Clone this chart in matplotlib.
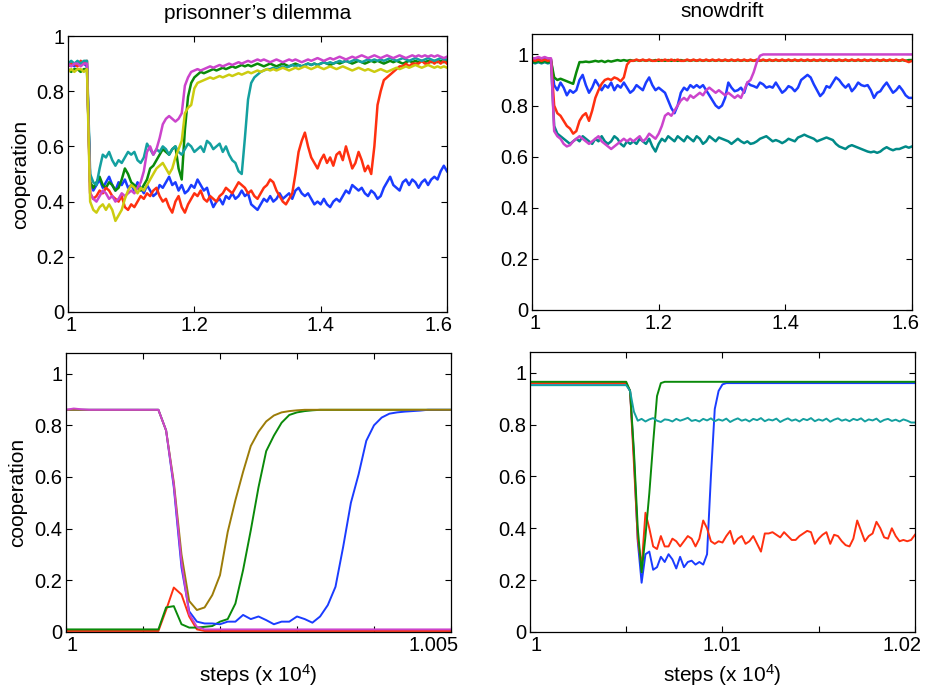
import numpy as np
import matplotlib
matplotlib.use("Agg")
import matplotlib.pyplot as plt
import matplotlib.transforms as mtransforms
from matplotlib.ticker import FixedLocator, FixedFormatter

plt.rcParams['font.family'] = ['Liberation Sans', 'DejaVu Sans']
plt.rcParams['mathtext.default'] = 'regular'

# ---------------- top panels: steps (x 1e4) from 1 to 1.6, every 0.005
top_x = np.round(1 + 0.005 * np.arange(121), 3)

# prisoner's dilemma, long run
pd_blue = [0.89, 0.90, 0.89, 0.90, 0.90, 0.90, 0.89, 0.47, 0.44, 0.46,
           0.48, 0.45, 0.47, 0.49, 0.46, 0.44, 0.47, 0.46, 0.48, 0.45,
           0.46, 0.44, 0.47, 0.45, 0.43, 0.46, 0.44, 0.42, 0.43, 0.46,
           0.45, 0.47, 0.49, 0.46, 0.47, 0.44, 0.46, 0.43, 0.44, 0.46,
           0.45, 0.48, 0.46, 0.44, 0.45, 0.41, 0.38, 0.40, 0.41, 0.39,
           0.42, 0.41, 0.43, 0.41, 0.42, 0.44, 0.42, 0.43, 0.39, 0.38,
           0.37, 0.39, 0.41, 0.40, 0.42, 0.40, 0.41, 0.43, 0.41, 0.42,
           0.43, 0.41, 0.44, 0.45, 0.43, 0.42, 0.43, 0.41, 0.39, 0.40,
           0.39, 0.41, 0.39, 0.38, 0.40, 0.41, 0.40, 0.42, 0.44, 0.43,
           0.46, 0.45, 0.44, 0.45, 0.43, 0.42, 0.44, 0.43, 0.41, 0.42,
           0.45, 0.47, 0.49, 0.46, 0.45, 0.44, 0.47, 0.48, 0.46, 0.48,
           0.47, 0.45, 0.47, 0.48, 0.46, 0.48, 0.49, 0.48, 0.51, 0.53,
           0.51]
pd_red = [0.89, 0.90, 0.90, 0.89, 0.91, 0.90, 0.91, 0.43, 0.41, 0.42,
          0.44, 0.43, 0.45, 0.44, 0.42, 0.41, 0.40, 0.42, 0.38, 0.37,
          0.39, 0.38, 0.40, 0.42, 0.41, 0.43, 0.42, 0.44, 0.45, 0.42,
          0.40, 0.41, 0.38, 0.36, 0.40, 0.42, 0.38, 0.36, 0.39, 0.41,
          0.43, 0.42, 0.44, 0.41, 0.40, 0.42, 0.41, 0.40, 0.42, 0.43,
          0.45, 0.44, 0.43, 0.45, 0.47, 0.46, 0.45, 0.43, 0.44, 0.42,
          0.41, 0.43, 0.45, 0.46, 0.48, 0.47, 0.44, 0.42, 0.40, 0.39,
          0.41, 0.43, 0.50, 0.58, 0.62, 0.65, 0.60, 0.56, 0.54, 0.52,
          0.55, 0.57, 0.54, 0.56, 0.53, 0.57, 0.58, 0.55, 0.60, 0.56,
          0.52, 0.54, 0.58, 0.55, 0.51, 0.53, 0.50, 0.60, 0.75, 0.80,
          0.84, 0.85, 0.86, 0.87, 0.88, 0.89, 0.89, 0.90, 0.89, 0.90,
          0.90, 0.90, 0.91, 0.90, 0.90, 0.91, 0.90, 0.91, 0.90, 0.91,
          0.90]
pd_cyan = [0.90, 0.91, 0.90, 0.91, 0.90, 0.91, 0.91, 0.50, 0.47, 0.46,
           0.52, 0.57, 0.56, 0.58, 0.55, 0.53, 0.55, 0.54, 0.56, 0.58,
           0.57, 0.58, 0.55, 0.54, 0.56, 0.61, 0.59, 0.57, 0.59, 0.58,
           0.60, 0.59, 0.57, 0.59, 0.60, 0.58, 0.57, 0.59, 0.61, 0.60,
           0.58, 0.59, 0.60, 0.58, 0.62, 0.61, 0.59, 0.60, 0.61, 0.58,
           0.60, 0.57, 0.55, 0.54, 0.51, 0.50, 0.63, 0.77, 0.83, 0.85,
           0.86, 0.87, 0.875, 0.88, 0.88, 0.885, 0.88, 0.885, 0.89, 0.885,
           0.89, 0.895, 0.89, 0.895, 0.89, 0.895, 0.90, 0.895, 0.90, 0.895,
           0.90, 0.905, 0.90, 0.905, 0.90, 0.905, 0.91, 0.905, 0.91, 0.905,
           0.91, 0.915, 0.91, 0.905, 0.91, 0.915, 0.91, 0.915, 0.91, 0.915,
           0.91, 0.915, 0.92, 0.915, 0.91, 0.915, 0.92, 0.915, 0.91, 0.915,
           0.92, 0.915, 0.91, 0.915, 0.92, 0.915, 0.91, 0.915, 0.92, 0.915,
           0.915]
pd_green = [0.88, 0.87, 0.88, 0.88, 0.87, 0.88, 0.88, 0.47, 0.45, 0.47,
            0.49, 0.46, 0.45, 0.47, 0.46, 0.44, 0.45, 0.48, 0.52, 0.50,
            0.47, 0.46, 0.45, 0.44, 0.46, 0.48, 0.52, 0.53, 0.55, 0.57,
            0.59, 0.58, 0.57, 0.59, 0.60, 0.52, 0.48, 0.66, 0.78, 0.83,
            0.85, 0.86, 0.87, 0.865, 0.87, 0.875, 0.88, 0.875, 0.88, 0.885,
            0.88, 0.885, 0.89, 0.885, 0.89, 0.895, 0.89, 0.895, 0.89, 0.895,
            0.90, 0.895, 0.89, 0.895, 0.90, 0.895, 0.89, 0.895, 0.90, 0.895,
            0.89, 0.895, 0.90, 0.895, 0.89, 0.895, 0.90, 0.895, 0.90, 0.895,
            0.90, 0.905, 0.90, 0.895, 0.90, 0.905, 0.90, 0.905, 0.91, 0.905,
            0.90, 0.905, 0.91, 0.905, 0.90, 0.905, 0.91, 0.905, 0.91, 0.905,
            0.90, 0.905, 0.91, 0.905, 0.91, 0.905, 0.90, 0.905, 0.91, 0.905,
            0.91, 0.905, 0.91, 0.905, 0.91, 0.905, 0.91, 0.905, 0.91, 0.905,
            0.91]
pd_magenta = [0.90, 0.89, 0.90, 0.90, 0.89, 0.90, 0.90, 0.43, 0.41, 0.40,
              0.42, 0.44, 0.43, 0.41, 0.42, 0.40, 0.41, 0.43, 0.42, 0.43,
              0.44, 0.43, 0.45, 0.47, 0.51, 0.58, 0.60, 0.57, 0.59, 0.63,
              0.68, 0.70, 0.71, 0.70, 0.69, 0.70, 0.72, 0.82, 0.85, 0.87,
              0.875, 0.88, 0.875, 0.88, 0.885, 0.89, 0.885, 0.89, 0.895, 0.89,
              0.895, 0.90, 0.895, 0.90, 0.905, 0.90, 0.905, 0.91, 0.905, 0.91,
              0.915, 0.91, 0.915, 0.91, 0.905, 0.91, 0.915, 0.91, 0.905, 0.91,
              0.915, 0.91, 0.915, 0.91, 0.905, 0.91, 0.915, 0.91, 0.915, 0.92,
              0.915, 0.91, 0.915, 0.92, 0.915, 0.92, 0.925, 0.92, 0.915, 0.92,
              0.925, 0.92, 0.925, 0.93, 0.925, 0.92, 0.925, 0.93, 0.925, 0.92,
              0.925, 0.93, 0.925, 0.92, 0.925, 0.93, 0.925, 0.92, 0.925, 0.93,
              0.925, 0.93, 0.925, 0.93, 0.925, 0.93, 0.925, 0.93, 0.925, 0.92,
              0.925]
pd_yellow = [0.87, 0.88, 0.87, 0.88, 0.88, 0.87, 0.88, 0.40, 0.37, 0.36,
             0.38, 0.39, 0.37, 0.39, 0.37, 0.33, 0.35, 0.37, 0.41, 0.44,
             0.46, 0.45, 0.43, 0.45, 0.44, 0.46, 0.48, 0.50, 0.52, 0.53,
             0.54, 0.52, 0.50, 0.52, 0.56, 0.59, 0.62, 0.72, 0.74, 0.75,
             0.81, 0.83, 0.835, 0.84, 0.845, 0.85, 0.845, 0.85, 0.855, 0.85,
             0.855, 0.86, 0.855, 0.86, 0.865, 0.86, 0.865, 0.87, 0.865, 0.87,
             0.875, 0.87, 0.875, 0.88, 0.875, 0.88, 0.875, 0.88, 0.885, 0.88,
             0.875, 0.88, 0.885, 0.88, 0.885, 0.89, 0.885, 0.88, 0.885, 0.89,
             0.885, 0.88, 0.885, 0.89, 0.885, 0.88, 0.885, 0.89, 0.885, 0.88,
             0.875, 0.88, 0.885, 0.88, 0.875, 0.88, 0.875, 0.87, 0.875, 0.88,
             0.875, 0.87, 0.875, 0.88, 0.885, 0.88, 0.885, 0.89, 0.885, 0.89,
             0.895, 0.89, 0.885, 0.89, 0.895, 0.89, 0.885, 0.89, 0.885, 0.89,
             0.885]

# snowdrift, long run
sd_blue = [0.98, 0.985, 0.98, 0.985, 0.98, 0.985, 0.98, 0.88, 0.86, 0.89,
           0.87, 0.84, 0.86, 0.85, 0.86, 0.90, 0.92, 0.88, 0.85, 0.87,
           0.90, 0.88, 0.86, 0.88, 0.87, 0.89, 0.86, 0.88, 0.87, 0.89,
           0.87, 0.85, 0.86, 0.88, 0.87, 0.86, 0.89, 0.91, 0.88, 0.86,
           0.87, 0.86, 0.85, 0.82, 0.79, 0.77, 0.80, 0.85, 0.87, 0.86,
           0.88, 0.87, 0.88, 0.87, 0.88, 0.86, 0.84, 0.82, 0.80, 0.79,
           0.80, 0.83, 0.89, 0.87, 0.856, 0.86, 0.87, 0.85, 0.89, 0.88,
           0.876, 0.87, 0.89, 0.883, 0.87, 0.875, 0.87, 0.89, 0.87, 0.85,
           0.86, 0.876, 0.87, 0.856, 0.87, 0.90, 0.91, 0.92, 0.91, 0.883,
           0.86, 0.837, 0.85, 0.876, 0.87, 0.89, 0.91, 0.90, 0.883, 0.87,
           0.883, 0.856, 0.87, 0.89, 0.88, 0.876, 0.88, 0.86, 0.83, 0.85,
           0.856, 0.875, 0.89, 0.87, 0.85, 0.86, 0.876, 0.86, 0.84, 0.83,
           0.83]
sd_red = [0.98, 0.975, 0.98, 0.975, 0.98, 0.975, 0.98, 0.80, 0.77, 0.76,
          0.74, 0.72, 0.71, 0.69, 0.70, 0.74, 0.76, 0.77, 0.74, 0.78,
          0.83, 0.86, 0.885, 0.90, 0.905, 0.90, 0.91, 0.905, 0.895, 0.91,
          0.96, 0.975, 0.975, 0.98, 0.975, 0.98, 0.975, 0.98, 0.975, 0.975,
          0.98, 0.975, 0.98, 0.975, 0.98, 0.975, 0.98, 0.975, 0.975, 0.98,
          0.975, 0.98, 0.975, 0.98, 0.975, 0.98, 0.975, 0.98, 0.975, 0.98,
          0.975, 0.98, 0.975, 0.98, 0.975, 0.98, 0.975, 0.98, 0.975, 0.98,
          0.975, 0.98, 0.975, 0.98, 0.975, 0.98, 0.975, 0.98, 0.975, 0.98,
          0.975, 0.98, 0.975, 0.98, 0.975, 0.98, 0.975, 0.98, 0.975, 0.98,
          0.975, 0.98, 0.975, 0.98, 0.975, 0.98, 0.975, 0.98, 0.975, 0.98,
          0.975, 0.98, 0.975, 0.98, 0.975, 0.98, 0.975, 0.98, 0.975, 0.98,
          0.975, 0.98, 0.975, 0.98, 0.975, 0.98, 0.975, 0.98, 0.975, 0.97,
          0.975]
sd_green = [0.975, 0.97, 0.975, 0.97, 0.975, 0.97, 0.975, 0.91, 0.90, 0.905,
            0.90, 0.895, 0.89, 0.885, 0.93, 0.97, 0.97, 0.972, 0.97, 0.972,
            0.975, 0.972, 0.975, 0.97, 0.975, 0.972, 0.975, 0.978, 0.975, 0.978,
            0.975, 0.978, 0.975, 0.978, 0.975, 0.978, 0.975, 0.978, 0.975, 0.978,
            0.975, 0.978, 0.975, 0.978, 0.975, 0.978, 0.975, 0.978, 0.975, 0.978,
            0.975, 0.978, 0.975, 0.978, 0.975, 0.978, 0.975, 0.978, 0.975, 0.978,
            0.975, 0.978, 0.975, 0.978, 0.975, 0.978, 0.975, 0.978, 0.975, 0.978,
            0.975, 0.978, 0.975, 0.978, 0.975, 0.978, 0.975, 0.978, 0.975, 0.978,
            0.975, 0.978, 0.975, 0.978, 0.975, 0.978, 0.975, 0.978, 0.975, 0.978,
            0.975, 0.978, 0.975, 0.978, 0.975, 0.978, 0.975, 0.978, 0.975, 0.978,
            0.975, 0.978, 0.975, 0.978, 0.975, 0.978, 0.975, 0.978, 0.975, 0.978,
            0.975, 0.978, 0.975, 0.978, 0.975, 0.978, 0.975, 0.978, 0.975, 0.978,
            0.978]
sd_cyan = [0.97, 0.965, 0.97, 0.965, 0.97, 0.965, 0.97, 0.72, 0.69, 0.68,
           0.67, 0.66, 0.65, 0.66, 0.67, 0.66, 0.68, 0.67, 0.66, 0.65,
           0.67, 0.66, 0.68, 0.66, 0.65, 0.66, 0.68, 0.67, 0.65, 0.64,
           0.66, 0.65, 0.66, 0.65, 0.67, 0.66, 0.65, 0.67, 0.64, 0.62,
           0.65, 0.67, 0.66, 0.68, 0.67, 0.66, 0.68, 0.67, 0.66, 0.68,
           0.67, 0.66, 0.68, 0.67, 0.65, 0.66, 0.68, 0.67, 0.66, 0.675,
           0.67, 0.665, 0.66, 0.65, 0.66, 0.67, 0.66, 0.653, 0.66, 0.65,
           0.653, 0.66, 0.67, 0.675, 0.68, 0.67, 0.66, 0.665, 0.66, 0.653,
           0.66, 0.67, 0.665, 0.66, 0.675, 0.68, 0.686, 0.68, 0.675, 0.67,
           0.66, 0.665, 0.67, 0.675, 0.67, 0.665, 0.65, 0.64, 0.635, 0.63,
           0.64, 0.645, 0.64, 0.635, 0.63, 0.625, 0.62, 0.617, 0.62, 0.615,
           0.62, 0.63, 0.637, 0.63, 0.625, 0.63, 0.63, 0.635, 0.64, 0.635,
           0.64]
sd_magenta = [0.985, 0.985, 0.99, 0.985, 0.99, 0.985, 0.985, 0.70, 0.68, 0.67,
              0.65, 0.64, 0.645, 0.66, 0.67, 0.68, 0.67, 0.66, 0.65, 0.66,
              0.67, 0.68, 0.66, 0.65, 0.64, 0.63, 0.64, 0.65, 0.66, 0.67,
              0.66, 0.67, 0.66, 0.67, 0.68, 0.66, 0.67, 0.69, 0.68, 0.67,
              0.69, 0.72, 0.76, 0.77, 0.76, 0.78, 0.80, 0.82, 0.83, 0.82,
              0.84, 0.83, 0.84, 0.85, 0.84, 0.86, 0.87, 0.86, 0.85, 0.86,
              0.85, 0.84, 0.85, 0.84, 0.83, 0.84, 0.83, 0.86, 0.89, 0.90,
              0.93, 0.97, 0.995, 1.0, 1.0, 1.0, 1.0, 1.0, 1.0, 1.0,
              1.0, 1.0, 1.0, 1.0, 1.0, 1.0, 1.0, 1.0, 1.0, 1.0,
              1.0, 1.0, 1.0, 1.0, 1.0, 1.0, 1.0, 1.0, 1.0, 1.0,
              1.0, 1.0, 1.0, 1.0, 1.0, 1.0, 1.0, 1.0, 1.0, 1.0,
              1.0, 1.0, 1.0, 1.0, 1.0, 1.0, 1.0, 1.0, 1.0, 1.0,
              1.0]

# ---------------- bottom left: prisoner's dilemma close-up, steps 10000..10050
pdz_x = 1 + 1e-4 * np.arange(51)
pdz_red = ([0.004] * 13 + [0.085, 0.172, 0.145, 0.06, 0.01] + [0.004] * 33)
pdz_green = ([0.01] * 13 + [0.095, 0.10, 0.03, 0.017, 0.017, 0.02, 0.023, 0.04, 0.05,
                            0.11, 0.24, 0.394, 0.56, 0.70, 0.76, 0.81, 0.84, 0.85, 0.855,
                            0.858] + [0.86] * 18)
pdz_blue = ([0.86] * 13 + [0.78, 0.56, 0.25, 0.08, 0.04, 0.033, 0.033, 0.03, 0.04,
                           0.04, 0.066, 0.05, 0.06, 0.046, 0.03, 0.04, 0.04, 0.06, 0.05,
                           0.036, 0.06, 0.104, 0.175, 0.33, 0.50, 0.61, 0.74, 0.80, 0.83,
                           0.845, 0.85, 0.853, 0.855, 0.857] + [0.86] * 4)
pdz_olive = ([0.86] * 13 + [0.78, 0.58, 0.30, 0.12, 0.085, 0.095, 0.143, 0.22, 0.387,
                            0.51, 0.62, 0.72, 0.775, 0.815, 0.838, 0.85, 0.855, 0.858]
             + [0.86] * 20)
pdz_magenta = ([0.86, 0.865, 0.862] + [0.86] * 10
               + [0.78, 0.57, 0.27, 0.07, 0.02] + [0.01] * 33)

# ---------------- bottom right: snowdrift close-up, steps 10000..10200 every 2
sdz_x = 1 + 1e-4 * np.arange(0, 201, 2)
sdz_blue = ([0.958] * 26 + [0.93, 0.68, 0.35, 0.19, 0.30, 0.31, 0.24, 0.25, 0.29, 0.27,
                            0.30, 0.28, 0.245, 0.29, 0.25, 0.27, 0.275, 0.26, 0.27, 0.26,
                            0.30, 0.60, 0.86, 0.93, 0.955] + [0.96] * 50)
sdz_red = ([0.96] * 26 + [0.93, 0.65, 0.36, 0.25, 0.46, 0.40, 0.33, 0.32, 0.37, 0.33,
                          0.33, 0.36, 0.35, 0.33, 0.35, 0.37, 0.36, 0.33, 0.36, 0.43,
                          0.40, 0.35, 0.34, 0.35, 0.345, 0.37, 0.39, 0.34, 0.36, 0.37,
                          0.34, 0.35, 0.37, 0.34, 0.31, 0.38, 0.38, 0.385, 0.375, 0.365,
                          0.385, 0.37, 0.355, 0.355, 0.37, 0.38, 0.39, 0.385, 0.34, 0.36,
                          0.375, 0.385, 0.34, 0.375, 0.37, 0.35, 0.335, 0.33, 0.36, 0.43,
                          0.39, 0.35, 0.37, 0.38, 0.425, 0.40, 0.365, 0.36, 0.40, 0.37,
                          0.35, 0.355, 0.35, 0.355, 0.375])
sdz_green = ([0.965] * 26 + [0.93, 0.70, 0.40, 0.23, 0.37, 0.535, 0.73, 0.91, 0.96]
             + [0.965] * 66)
sdz_cyan = ([0.952] * 26 + [0.93, 0.85, 0.815, 0.822, 0.812, 0.82, 0.825, 0.815, 0.81, 0.82,
                            0.818, 0.812, 0.822, 0.815, 0.82, 0.826, 0.814, 0.818, 0.812, 0.822,
                            0.816, 0.824, 0.813, 0.82, 0.815, 0.823, 0.81, 0.818, 0.824, 0.815,
                            0.82, 0.812, 0.822, 0.817, 0.825, 0.813, 0.82, 0.816, 0.823, 0.81,
                            0.818, 0.824, 0.815, 0.82, 0.812, 0.822, 0.817, 0.825, 0.813, 0.82,
                            0.815, 0.823, 0.811, 0.819, 0.824, 0.815, 0.82, 0.813, 0.822, 0.817,
                            0.824, 0.812, 0.82, 0.816, 0.823, 0.81, 0.818, 0.822, 0.814, 0.819,
                            0.812, 0.82, 0.815, 0.808, 0.808])

BLUE = '#1a3cff'
RED = '#ff3010'
GREEN = '#0a8a0a'
CYAN = '#14a0a0'
DARKCYAN = '#008a88'
MAGENTA = '#cc44cc'
YELLOW = '#cccc10'
OLIVE = '#9c7c08'

fig = plt.figure(figsize=(9.27, 6.91), dpi=100)
ax_tl = fig.add_axes([0.0734, 0.5485, 0.4088, 0.3994])
ax_tr = fig.add_axes([0.5739, 0.5514, 0.4099, 0.3994])
ax_bl = fig.add_axes([0.0712, 0.0854, 0.4153, 0.4038])
ax_br = fig.add_axes([0.5717, 0.0854, 0.4153, 0.4052])

for series, col in [(pd_blue, BLUE), (pd_green, GREEN), (pd_red, RED),
                    (pd_cyan, CYAN), (pd_magenta, MAGENTA), (pd_yellow, YELLOW)]:
    ax_tl.plot(top_x, series, color=col, lw=1.8)

for series, col in [(sd_blue, BLUE), (sd_cyan, DARKCYAN), (sd_green, GREEN),
                    (sd_red, RED), (sd_magenta, MAGENTA)]:
    ax_tr.plot(top_x, series, color=col, lw=1.8)

for series, col in [(pdz_red, RED), (pdz_green, GREEN), (pdz_blue, BLUE),
                    (pdz_olive, OLIVE), (pdz_magenta, MAGENTA)]:
    ax_bl.plot(pdz_x, series, color=col, lw=1.4)

for series, col in [(sdz_blue, BLUE), (sdz_red, RED), (sdz_green, GREEN),
                    (sdz_cyan, CYAN)]:
    ax_br.plot(sdz_x, series, color=col, lw=1.4)

yticks = [0, 0.2, 0.4, 0.6, 0.8, 1]
ylabels = ['0', '0.2', '0.4', '0.6', '0.8', '1']

for ax in [ax_tl, ax_tr, ax_bl, ax_br]:
    ax.yaxis.set_major_locator(FixedLocator(yticks))
    ax.yaxis.set_major_formatter(FixedFormatter(ylabels))
    ax.tick_params(direction='in', top=True, right=True, length=4.5, width=0.8,
                   labelsize=14.5, pad=3)
    ax.tick_params(axis='y', pad=2.5)
    for sp in ax.spines.values():
        sp.set_linewidth(0.9)

for ax in [ax_tl, ax_tr]:
    ax.set_xlim(1, 1.6)
    ax.xaxis.set_major_locator(FixedLocator([1, 1.2, 1.4, 1.6]))
    ax.xaxis.set_major_formatter(FixedFormatter(['1', '1.2', '1.4', '1.6']))

ax_tl.set_ylim(0, 1)
ax_tr.set_ylim(0, 1.08)
ax_bl.set_ylim(0, 1.08)
ax_br.set_ylim(0, 1.08)

ax_bl.set_xlim(1, 1.005)
ax_bl.xaxis.set_major_locator(FixedLocator([1, 1.001, 1.002, 1.003, 1.004, 1.005]))
ax_bl.xaxis.set_major_formatter(FixedFormatter(['1', '', '', '', '', '1.005']))

ax_br.set_xlim(1, 1.02)
ax_br.xaxis.set_major_locator(FixedLocator([1, 1.005, 1.01, 1.015, 1.02]))
ax_br.xaxis.set_major_formatter(FixedFormatter(['1', '', '1.01', '', '1.02']))

ax_tl.set_title("prisonner\u2019s dilemma", fontsize=15, pad=12)
ax_tr.set_title("snowdrift", fontsize=15, pad=12)
ax_tl.set_ylabel("cooperation", fontsize=15, labelpad=5)
ax_bl.set_ylabel("cooperation", fontsize=15, labelpad=5)
ax_bl.set_xlabel("steps (x 10$^{4}$)", fontsize=15, labelpad=5)
ax_br.set_xlabel("steps (x 10$^{4}$)", fontsize=15, labelpad=5)

# the end tick labels sit a little inside the axes, as in the original figure
edge_shift = {ax_tl: (3, -8), ax_tr: (3, -6), ax_bl: (6, -17), ax_br: (6, -13)}
for ax, (first_dx, last_dx) in edge_shift.items():
    ticks = ax.xaxis.get_major_ticks()
    for tick, dx in [(ticks[0], first_dx), (ticks[-1], last_dx)]:
        off = mtransforms.ScaledTranslation(dx / 100, 0, fig.dpi_scale_trans)
        tick.label1.set_transform(tick.label1.get_transform() + off)

fig.savefig("out.png", dpi=100)
